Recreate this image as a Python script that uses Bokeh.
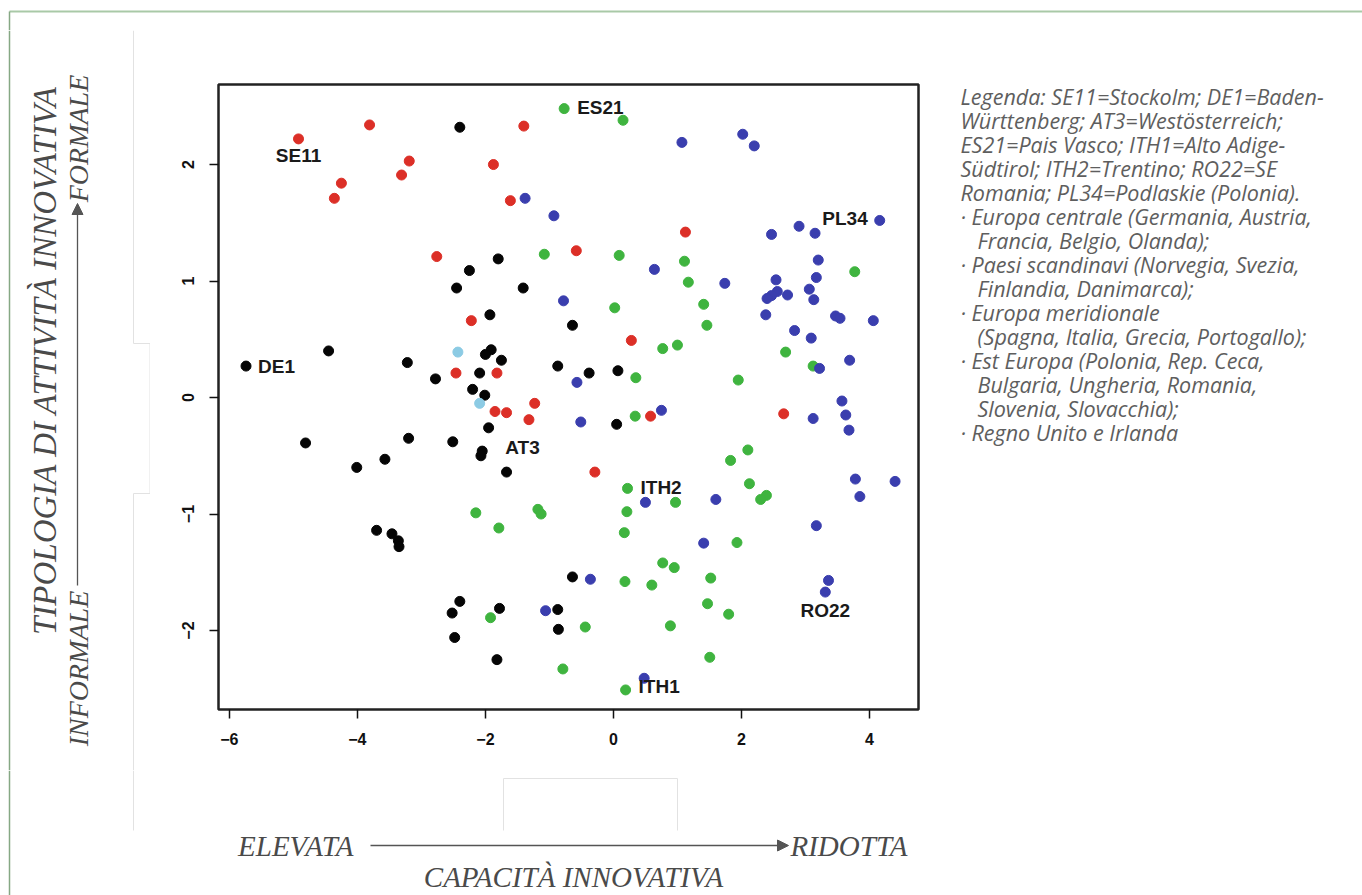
import math
from bokeh.plotting import figure
from bokeh.models import Range1d, FixedTicker, Arrow, NormalHead, ColumnDataSource
from bokeh.layouts import row, column
from bokeh.embed import file_html
from bokeh.resources import INLINE
from bokeh.core.properties import value

# ---------------- data ----------------
central_x = [-2.40, -1.80, -2.25, -2.45, -1.41, -1.93, -4.45, -1.91, -2.00, -1.75,
             -5.74, -3.22, -2.09, -2.78, -2.20, -2.01, -1.95, -4.81, -3.20, -2.51,
             -2.05, -2.07, -3.57, -4.01, -1.67, -3.70, -3.46, -3.36, -3.35, -2.40,
             -2.52, -1.78, -2.48, -1.82, -0.64, -0.87, -0.38, 0.07, 0.05, -0.64,
             -0.87, -0.86]
central_y = [2.32, 1.19, 1.09, 0.94, 0.94, 0.71, 0.40, 0.41, 0.37, 0.32,
             0.27, 0.30, 0.21, 0.16, 0.07, 0.02, -0.26, -0.39, -0.35, -0.38,
             -0.46, -0.50, -0.53, -0.60, -0.64, -1.14, -1.17, -1.23, -1.28, -1.75,
             -1.85, -1.81, -2.06, -2.25, 0.62, 0.27, 0.21, 0.23, -0.23, -1.54,
             -1.82, -1.99]

scand_x = [-4.92, -3.81, -1.40, -3.19, -1.875, -3.31, -4.25, -4.36, -1.61, -2.76,
           -2.22, -2.46, -1.82, -1.85, -1.67, -1.23, -1.32, 1.125, -0.58, 0.28,
           2.66, 0.58, -0.29]
scand_y = [2.22, 2.34, 2.33, 2.03, 2.00, 1.91, 1.84, 1.71, 1.69, 1.21,
           0.66, 0.21, 0.21, -0.12, -0.13, -0.05, -0.19, 1.42, 1.26, 0.49,
           -0.14, -0.16, -0.64]

south_x = [-0.77, 0.15, -1.08, 0.09, 1.11, 3.77, 1.17, 0.02, 1.41, 1.46,
           0.77, 1.00, 2.69, 3.12, 0.35, 1.95, 0.34, 2.10, 1.83, 0.22,
           2.125, 2.39, 2.30, 0.97, 0.21, 0.17, 1.93, 0.77, 0.95, 0.18,
           0.60, 1.52, 1.47, 1.80, -0.44, 0.89, 1.505, -0.79, 0.19, -2.15,
           -1.79, -1.18, -1.13, -1.92]
south_y = [2.48, 2.38, 1.23, 1.22, 1.17, 1.08, 0.99, 0.77, 0.80, 0.62,
           0.42, 0.45, 0.39, 0.27, 0.17, 0.15, -0.16, -0.45, -0.54, -0.78,
           -0.74, -0.84, -0.875, -0.90, -0.98, -1.16, -1.245, -1.42, -1.46, -1.58,
           -1.61, -1.55, -1.77, -1.86, -1.97, -1.96, -2.23, -2.33, -2.51, -0.99,
           -1.12, -0.96, -1.00, -1.89]

east_x = [-1.38, 1.07, 2.02, 2.20, -0.93, 4.16, 2.47, 2.90, 3.15, 3.20,
          0.64, 1.74, 2.54, 3.17, 3.06, 2.56, 2.47, 2.40, 2.72, 3.13,
          -0.78, 2.38, 3.47, 3.54, 4.06, 2.83, 3.09, 3.22, 3.69, -0.57,
          3.57, 3.63, 3.68, 3.12, -0.51, 0.75, 3.78, 4.40, 3.85, 0.50,
          1.60, 3.17, 1.41, -0.36, 3.36, 3.31, -1.06, 0.48]
east_y = [1.71, 2.19, 2.26, 2.16, 1.56, 1.52, 1.40, 1.47, 1.41, 1.18,
          1.10, 0.98, 1.01, 1.03, 0.93, 0.91, 0.875, 0.85, 0.88, 0.84,
          0.83, 0.71, 0.70, 0.68, 0.66, 0.575, 0.51, 0.25, 0.32, 0.13,
          -0.03, -0.15, -0.28, -0.18, -0.21, -0.11, -0.70, -0.72, -0.85, -0.90,
          -0.875, -1.10, -1.25, -1.56, -1.57, -1.67, -1.83, -2.41]

uk_x = [-2.43, -2.09]
uk_y = [0.39, -0.05]

lab_names = ["SE11", "DE1", "AT3", "ES21", "ITH2", "ITH1", "RO22", "PL34"]
lab_x = [-4.92, -5.74, -2.05, -0.77, 0.22, 0.19, 3.31, 4.16]
lab_y = [2.22, 0.27, -0.46, 2.48, -0.78, -2.51, -1.67, 1.52]

x_ticks = [-6, -4, -2, 0, 2, 4]
y_ticks = [-2, -1, 0, 1, 2]

y_title = "TIPOLOGIA DI ATTIVITÀ INNOVATIVA"
y_low, y_high = "INFORMALE", "FORMALE"
x_title = "CAPACITÀ INNOVATIVA"
x_low, x_high = "ELEVATA", "RIDOTTA"

legend_lines = [
    "Legenda: SE11=Stockolm; DE1=Baden-",
    "Württenberg; AT3=Westösterreich;",
    "ES21=Pais Vasco; ITH1=Alto Adige-",
    "Südtirol; ITH2=Trentino; RO22=SE",
    "Romania; PL34=Podlaskie (Polonia).",
    "· Europa centrale (Germania, Austria,",
    "Francia, Belgio, Olanda);",
    "· Paesi scandinavi (Norvegia, Svezia,",
    "Finlandia, Danimarca);",
    "· Europa meridionale",
    "(Spagna, Italia, Grecia, Portogallo);",
    "· Est Europa (Polonia, Rep. Ceca,",
    "Bulgaria, Ungheria, Romania,",
    "Slovenia, Slovacchia);",
    "· Regno Unito e Irlanda",
]

# ---------------- layout geometry (canvas pixels) ----------------
W, H = 1362, 895
FL, FR, FT, FB = 218, 918, 84, 709          # plot frame
TOPH = 30                                    # top strip height
MIDB = 770                                   # bottom of the middle row
LW = 150                                     # left panel width
MX1 = FR + 6                                 # right end of scatter figure
GREY = "#4a4a4a"
SERIF = "Liberation Serif"
LG = "#e2e2e2"
PAGE_TOP = "#a9c9a7"
PAGE_LEFT = "#86a884"


def panel(x0, y0, w, h):
    f = figure(width=w, height=h, x_range=Range1d(x0, x0 + w),
               y_range=Range1d(y0 + h, y0), x_axis_type=None, y_axis_type=None,
               min_border=0, toolbar_location=None, output_backend="svg")
    f.grid.visible = False
    f.outline_line_color = None
    f.background_fill_color = "white"
    f.border_fill_color = "white"
    return f


def txt(f, x, y, t, align="center", angle=0.0, size="28px", font=SERIF,
        color=GREY, style="italic"):
    f.text(x=[x], y=[y], text=[t], angle=angle, text_align=align,
           text_baseline="middle", text_font=value(font), text_font_style=style,
           text_font_size=size, text_color=color)


def seg(f, x0, y0, x1, y1, color, width=1.0):
    f.segment(x0=[x0], y0=[y0], x1=[x1], y1=[y1], line_color=color, line_width=width)


def arrow(f, x0, y0, x1, y1, color="#555555", width=1.3):
    f.add_layout(Arrow(x_start=x0, y_start=y0, x_end=x1, y_end=y1,
                       line_color=color, line_width=width,
                       end=NormalHead(size=11, fill_color=color, line_color=color)))


# ---- top strip (page border) ----
T = panel(0, 0, W, TOPH)
seg(T, 9, 11, W, 11, PAGE_TOP, 2)
seg(T, 9, 11, 9, TOPH, PAGE_LEFT, 1.5)

# ---- left panel: y title ----
L = panel(0, TOPH, LW, MIDB - TOPH)
seg(L, 9, TOPH, 9, MIDB, PAGE_LEFT, 1.5)
seg(L, 133, 30, 133, 343, LG)
seg(L, 133, 343, 149.5, 343, LG)
seg(L, 149.5, 343, 149.5, 493, LG)
seg(L, 149.5, 493, 133, 493, LG)
seg(L, 133, 493, 133, MIDB, LG)
txt(L, 44, 360, y_title, angle=math.pi / 2, size="33px")
txt(L, 78, 668, y_low, angle=math.pi / 2)
txt(L, 78, 138, y_high, angle=math.pi / 2)
arrow(L, 77, 585, 77, 203)

# ---- main scatter ----
p = figure(width=MX1 - LW, height=MIDB - TOPH,
           x_range=Range1d(-6.17, 4.766), y_range=Range1d(-2.678, 2.687),
           output_backend="svg", toolbar_location=None,
           min_border_left=FL - LW, min_border_right=MX1 - FR,
           min_border_top=FT - TOPH, min_border_bottom=MIDB - FB)
p.grid.visible = False
p.outline_line_color = "#222222"
p.outline_line_width = 2.5
p.background_fill_color = "white"
p.border_fill_color = "white"

for ax, ticks in ((p.xaxis, x_ticks), (p.yaxis, y_ticks)):
    ax.ticker = FixedTicker(ticks=ticks)
    ax.axis_line_color = None
    ax.major_tick_in = 0
    ax.major_tick_out = 9
    ax.minor_tick_line_color = None
    ax.major_tick_line_color = "#111111"
    ax.major_tick_line_width = 1.5
    ax.major_label_text_font = "Liberation Sans"
    ax.major_label_text_font_style = "bold"
    ax.major_label_text_font_size = "16px"
    ax.major_label_text_color = "#111111"
p.xaxis.major_label_standoff = 14
p.yaxis.major_label_standoff = 15
p.yaxis.major_label_orientation = "vertical"

PT = 10
p.scatter(central_x, central_y, size=PT, color="#050505")
p.scatter(scand_x, scand_y, size=PT, color="#dc2f27")
p.scatter(south_x, south_y, size=PT, color="#3fb43f")
p.scatter(east_x, east_y, size=PT, color="#3a3eae")
p.scatter(uk_x, uk_y, size=PT, color="#8ccbe4")

offs = {
    "SE11": (0, 17, "center"), "DE1": (12, 0, "left"), "AT3": (23, -4, "left"),
    "ES21": (13, -1, "left"), "ITH2": (13, -1, "left"), "ITH1": (13, -3, "left"),
    "RO22": (0, 18, "center"), "PL34": (-12, -2, "right"),
}
src = ColumnDataSource(dict(
    x=lab_x, y=lab_y, t=lab_names,
    dx=[offs[n][0] for n in lab_names],
    dy=[offs[n][1] for n in lab_names],
    al=[offs[n][2] for n in lab_names],
))
p.text(x="x", y="y", text="t", x_offset="dx", y_offset="dy", text_align="al",
       source=src, text_baseline="middle", text_font=value("Liberation Sans"),
       text_font_style="bold", text_font_size="19px", text_color="#1a1a1a")

# ---- right panel: legend text ----
R = panel(MX1, TOPH, W - MX1, MIDB - TOPH)
bullet_started = False
for i, t in enumerate(legend_lines):
    if t.startswith("·"):
        bullet_started = True
        cx = 960
    elif bullet_started:
        cx = 977
    else:
        cx = 960
    txt(R, cx, 96 + 24.0 * i, t, align="left", size="21.5px", font="Open Sans",
        color="#5e5e5e")

# ---- bottom strip: x title ----
B = panel(0, MIDB, W, H - MIDB)
seg(B, 9, MIDB, 9, H, PAGE_LEFT, 1.5)
seg(B, 133, MIDB, 133, 830, LG)
seg(B, 503, 778, 677, 778, LG)
seg(B, 503, 778, 503, 830, LG)
seg(B, 677, 778, 677, 830, LG)
txt(B, 353, 845, x_low, align="right", size="29px")
txt(B, 790, 845, x_high, align="left", size="29px")
txt(B, 573, 876, x_title, size="29px")
arrow(B, 370, 845, 788, 845)

page = column(T, row(L, column(p), R), B)
open("out.html", "w").write(file_html(page, INLINE))
